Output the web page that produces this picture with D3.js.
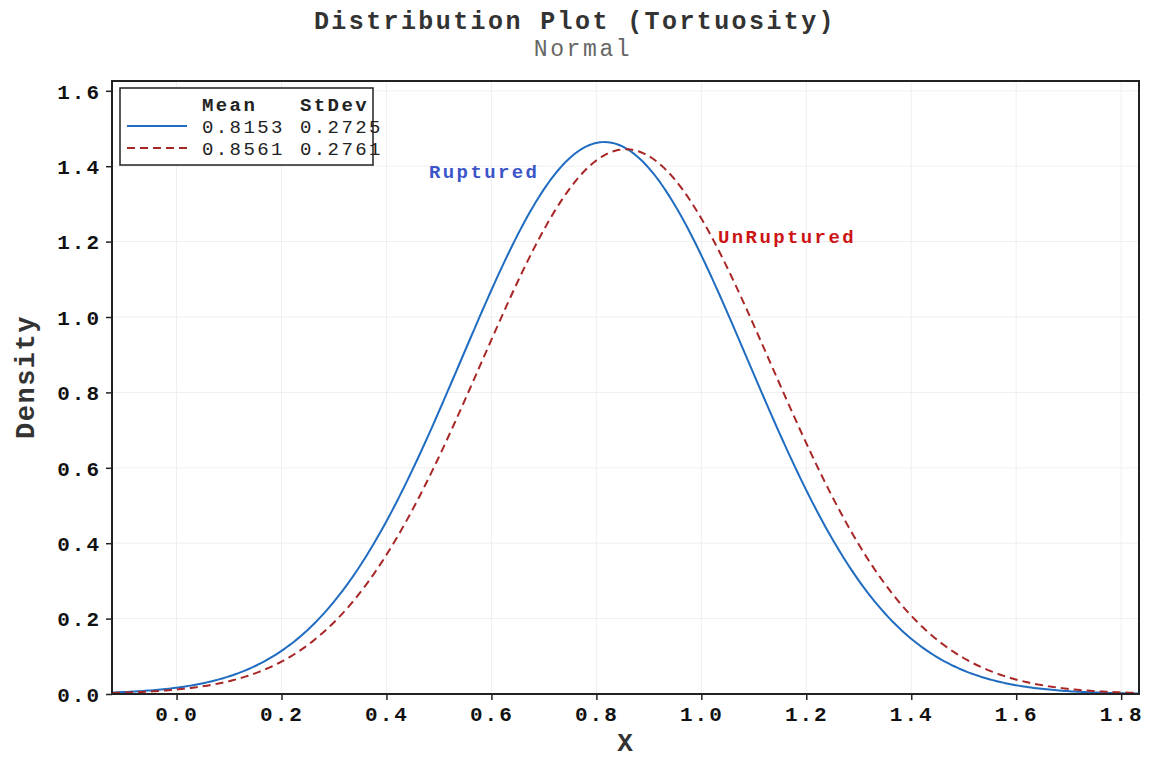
<!DOCTYPE html>
<html>
<head>
<meta charset="utf-8">
<script src="https://cdn.jsdelivr.net/npm/d3@7"></script>
<style>
  body { margin: 0; background: #fff; }
  svg { display: block; }
  text { font-family: "Liberation Mono", "Courier New", monospace; }
</style>
</head>
<body>
<svg id="chart" width="1157" height="758"></svg>
<script>
// Fitted normal distributions for the two groups
const groups = ["Ruptured", "UnRuptured"];
const means = [0.8153, 0.8561];
const stdevs = [0.2725, 0.2761];
const colors = ["#1f6cc0", "#a82626"];
const labelColors = ["#3c55c8", "#cc1414"];

const xTicks = [0.0, 0.2, 0.4, 0.6, 0.8, 1.0, 1.2, 1.4, 1.6, 1.8];
const yTicks = [0.0, 0.2, 0.4, 0.6, 0.8, 1.0, 1.2, 1.4, 1.6];
const xDomain = [-0.123, 1.834];
const yDomain = [0, 1.626];

const svg = d3.select("#chart");
const margin = { left: 112, right: 18, top: 81, bottom: 64 };
const W = 1157, H = 758;

const x = d3.scaleLinear().domain(xDomain).range([margin.left, W - margin.right]);
const y = d3.scaleLinear().domain(yDomain).range([H - margin.bottom, margin.top]);

// Gridlines
svg.append("g").selectAll("line").data(xTicks).join("line")
  .attr("x1", d => x(d)).attr("x2", d => x(d))
  .attr("y1", y(yDomain[0])).attr("y2", y(yDomain[1]))
  .attr("stroke", "#efefef").attr("stroke-width", 1);
svg.append("g").selectAll("line").data(yTicks).join("line")
  .attr("y1", d => y(d)).attr("y2", d => y(d))
  .attr("x1", x(xDomain[0])).attr("x2", x(xDomain[1]))
  .attr("stroke", "#efefef").attr("stroke-width", 1);

// Density curves
const pdf = (v, m, s) => Math.exp(-0.5 * ((v - m) / s) ** 2) / (s * Math.sqrt(2 * Math.PI));
const xs = d3.range(0, 401).map(i => xDomain[0] + (xDomain[1] - xDomain[0]) * i / 400);
const line = d3.line().x(d => x(d[0])).y(d => y(d[1]));

groups.forEach((g, i) => {
  svg.append("path")
    .datum(xs.map(v => [v, pdf(v, means[i], stdevs[i])]))
    .attr("d", line)
    .attr("fill", "none")
    .attr("stroke", colors[i])
    .attr("stroke-width", 2)
    .attr("stroke-dasharray", i === 1 ? "8,5" : null);
});

// Axes
const xAxis = svg.append("g")
  .attr("transform", `translate(0,${y(0)})`)
  .call(d3.axisBottom(x).tickValues(xTicks).tickFormat(d3.format(".1f")).tickSize(6).tickPadding(6));
const yAxis = svg.append("g")
  .attr("transform", `translate(${x(xDomain[0])},0)`)
  .call(d3.axisLeft(y).tickValues(yTicks).tickFormat(d3.format(".1f")).tickSize(6).tickPadding(5));
[xAxis, yAxis].forEach(a => {
  a.select(".domain").remove();
  a.selectAll(".tick line").attr("stroke", "#222").attr("stroke-width", 1.5);
  a.selectAll(".tick text")
    .attr("fill", "#111")
    .style("font-size", "21px")
    .style("font-weight", "bold")
    .style("letter-spacing", "2px");
});
yAxis.selectAll(".tick text").attr("dy", "0.35em");

// Plot frame
svg.append("rect")
  .attr("x", x(xDomain[0])).attr("y", y(yDomain[1]))
  .attr("width", x(xDomain[1]) - x(xDomain[0]))
  .attr("height", y(yDomain[0]) - y(yDomain[1]))
  .attr("fill", "none").attr("stroke", "#222").attr("stroke-width", 2);

// Titles
svg.append("text").attr("x", 575).attr("y", 29).attr("text-anchor", "middle")
  .style("font-size", "25px").style("font-weight", "bold").attr("fill", "#333")
  .style("letter-spacing", "2.4px")
  .text("Distribution Plot (Tortuosity)");
svg.append("text").attr("x", 583).attr("y", 56).attr("text-anchor", "middle")
  .style("font-size", "23px").attr("fill", "#666")
  .style("letter-spacing", "2.6px")
  .text("Normal");
svg.append("text").attr("x", 625).attr("y", 751).attr("text-anchor", "middle")
  .style("font-size", "26px").style("font-weight", "bold").attr("fill", "#333")
  .text("X");
svg.append("text").attr("transform", "translate(34,377) rotate(-90)").attr("text-anchor", "middle")
  .style("font-size", "27px").style("font-weight", "bold").attr("fill", "#333")
  .style("letter-spacing", "1.5px")
  .text("Density");

// Legend
const lg = svg.append("g").attr("transform", "translate(120,88)");
const fs = "19px", ls = "2.4px";
lg.append("rect").attr("width", 253).attr("height", 77)
  .attr("fill", "#fff").attr("stroke", "#222").attr("stroke-width", 1.5);
lg.append("text").attr("x", 82).attr("y", 23).style("font-size", fs).style("letter-spacing", ls)
  .attr("fill", "#222").style("font-weight", "bold").text("Mean");
lg.append("text").attr("x", 180).attr("y", 23).style("font-size", fs).style("letter-spacing", ls)
  .attr("fill", "#222").style("font-weight", "bold").text("StDev");
groups.forEach((g, i) => {
  const ry = 38 + i * 22;
  lg.append("line").attr("x1", 7).attr("x2", 67).attr("y1", ry).attr("y2", ry)
    .attr("stroke", colors[i]).attr("stroke-width", 2)
    .attr("stroke-dasharray", i === 1 ? "8,5" : null);
  lg.append("text").attr("x", 82).attr("y", ry + 7).style("font-size", fs).style("letter-spacing", ls)
    .attr("fill", "#222").text(d3.format(".4f")(means[i]));
  lg.append("text").attr("x", 180).attr("y", ry + 7).style("font-size", fs).style("letter-spacing", ls)
    .attr("fill", "#222").text(d3.format(".4f")(stdevs[i]));
});

// Curve labels
svg.append("text").attr("x", 429).attr("y", 178)
  .style("font-size", "19px").style("font-weight", "bold").style("letter-spacing", "2.4px")
  .attr("fill", labelColors[0])
  .text(groups[0]);
svg.append("text").attr("x", 718).attr("y", 243)
  .style("font-size", "19px").style("font-weight", "bold").style("letter-spacing", "2.4px")
  .attr("fill", labelColors[1])
  .text(groups[1]);
</script>
</body>
</html>
